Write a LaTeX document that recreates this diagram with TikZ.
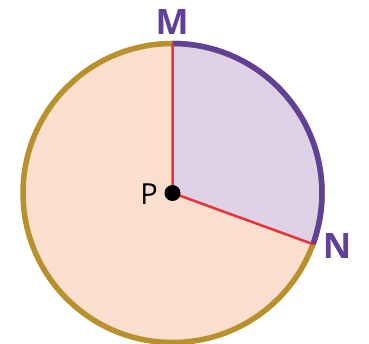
\documentclass[tikz,border=0pt]{standalone}
\usepackage{fontspec}
\setmainfont{Open Sans}
\usetikzlibrary{calc}
\definecolor{pinkfill}{HTML}{FADECE}
\definecolor{lavfill}{HTML}{DFD1E6}
\definecolor{goldring}{HTML}{B8902C}
\definecolor{purplering}{HTML}{61409A}
\definecolor{radred}{HTML}{E8323A}
\tikzset{
  ptlabel/.style={font=\fontsize{35}{35}\selectfont\bfseries, text=purplering, inner sep=0pt},
  radius line/.style={draw=radred, line width=2.5pt},
}
\begin{document}
\begin{tikzpicture}[x=1pt,y=-1pt]
\useasboundingbox (0,0) rectangle (369,344);
\coordinate (P) at (172.5,193);
\coordinate (M) at ($(P)+(0,-149.5)$);
\coordinate (N) at ($(P)+({149.5*cos(20)},{149.5*sin(20)})$);
\fill[pinkfill] (P) circle[radius=149.5];
\fill[lavfill] (P) -- (M) arc[start angle=-90, end angle=20, radius=149.5] -- cycle;
\draw[goldring, line width=5.5pt] (P) circle[radius=149.5];
\draw[purplering, line width=5.5pt] (M) arc[start angle=-90, end angle=20, radius=149.5];
\draw[radius line] (M) -- (P) -- (N);
\fill[black] (P) circle[radius=8];
\node[ptlabel] (Mlab) at (172,22) {M};
\node[ptlabel] (Nlab) at (337,246) {N};
\node[font=\fontsize{29}{29}\selectfont, inner sep=0pt] (Plab) at (149,194) {P};
\end{tikzpicture}
\end{document}
